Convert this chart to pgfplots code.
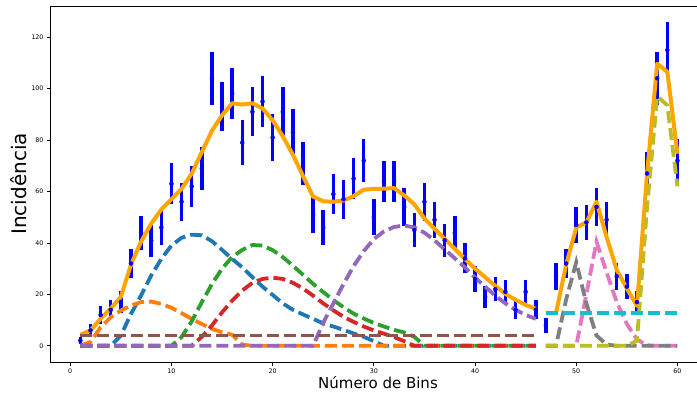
\documentclass[border=0pt]{standalone}
\usepackage{fontspec}
\setmainfont{DejaVu Sans}
\usepackage{pgfplots}
\pgfplotsset{compat=1.18}
\usepackage{pgfplotstable}

\definecolor{tabblue}{HTML}{1F77B4}
\definecolor{taborange}{HTML}{FF7F0E}
\definecolor{tabgreen}{HTML}{2CA02C}
\definecolor{tabred}{HTML}{D62728}
\definecolor{tabpurple}{HTML}{9467BD}
\definecolor{tabbrown}{HTML}{8C564B}
\definecolor{tabpink}{HTML}{E377C2}
\definecolor{tabgray}{HTML}{7F7F7F}
\definecolor{tabolive}{HTML}{BCBD22}
\definecolor{tabcyan}{HTML}{17BECF}
\definecolor{mplorange}{HTML}{FFA500}

\pgfplotstableread{
bin n err
1 2 1.41
2 6 2.45
3 12 3.46
4 14 3.74
5 17 4.12
6 32 5.66
7 44 6.63
8 41 6.40
9 46 6.78
10 63 7.94
11 56 7.48
12 62 7.87
13 69 8.31
14 104 10.20
15 93 9.64
16 98 9.90
17 79 8.89
18 91 9.54
19 95 9.75
20 81 9.00
21 91 9.54
22 83 9.11
23 71 8.43
24 51 7.14
25 46 6.78
26 59 7.68
27 57 7.55
28 65 8.06
29 72 8.49
30 50 7.07
31 64 8.00
32 64 8.00
33 54 7.35
34 45 6.71
35 56 7.48
36 49 7.00
37 41 6.40
38 44 6.63
39 34 5.83
40 26 5.10
41 19 4.36
42 22 4.69
43 21 4.58
44 14 3.74
45 21 4.58
46 14 3.74
47 8 2.83
48 27 5.20
49 32 5.66
50 47 6.86
51 48 6.93
52 54 7.35
53 49 7.00
54 27 5.20
55 23 4.80
56 17 4.12
57 67 8.19
58 104 10.20
59 115 10.72
60 72 8.49
}\datatab

\pgfplotstableread{
bin tot c0 c1 c2 c3 c4 c5
1 4.3 0 0 0 0 0 4
2 6 0 1.5 0 0 0 4
3 10.5 0 7.2 0 0 0 4
4 14.5 0 11.1 0 0 0 4
5 19 4 13.7 0 0 0 4
6 31.5 12.4 15.7 0 0 0 4
7 40.5 19.6 17 0 0 0 4
8 47.5 27.3 17.2 0 0 0 4
9 53 33.8 16.3 0 0 0 4
10 57 39 14.8 0 0 0 4
11 61 42 12.7 3.4 0 0 4
12 66.9 43.2 10.5 9.5 0 0 4
13 75.3 43 8.5 17 3.5 0 4
14 83.6 40.7 6.6 24 7.9 0 4
15 89.6 37.3 5.3 30 13 0 4
16 94.3 33.8 4.3 34.5 17.6 0 4
17 93.8 30.5 0.5 37.3 21.5 0 4
18 94.3 26.7 0 39.2 24.5 0 4
19 92.3 23 0 39 26 0 4
20 87.7 19.8 0 37.2 26.5 0 4
21 81.5 16.5 0 34.5 26 0 4
22 74.3 14 0 31.2 24.5 0 4
23 66 12.2 0 27.6 22.3 0 4
24 58 10.5 0 24.1 19.5 0 4
25 56.2 8.7 0 20.9 16.5 9 4
26 56 7.5 0 17.8 13.8 16.5 4
27 56.5 6.2 0 15 11.3 24 4
28 58.2 4.8 0 12.5 9.3 31 4
29 60.7 3.5 0 10.6 7.5 36.8 4
30 61 1.8 0 8.9 6 41.5 4
31 61.1 0 0 7.5 4.7 44.5 4
32 61.3 0 0 6.2 3.4 46.2 4
33 58.5 0 0 5.2 1.8 46.8 4
34 55 0 0 3.5 0 46 4
35 49.5 0 0 0 0 44 4
36 45.5 0 0 0 0 41 4
37 41.6 0 0 0 0 37.5 4
38 37.7 0 0 0 0 34 4
39 33.8 0 0 0 0 30.5 4
40 30 0 0 0 0 26.5 4
41 26.7 0 0 0 0 23 4
42 23.3 0 0 0 0 19.5 4
43 20.2 0 0 0 0 16.5 4
44 17.9 0 0 0 0 14 4
45 15.9 0 0 0 0 12 4
46 14.4 0 0 0 0 10.5 4
}\segA

\pgfplotstableread{
bin tot c6 c7 c8 c9
47 12.8 0 0 0 12.8
48 12.8 0 0 0 12.8
49 31.5 0 18 0 12.8
50 46 0 32.5 0 12.8
51 48 20 16.5 0 12.8
52 56 40.5 4 0 12.8
53 42.3 28.6 0.5 0 12.8
54 29.5 17 0 0 12.8
55 22.3 8.5 0 0 12.8
56 15.5 2.5 0 2 12.8
57 67 0.2 0 54 12.8
58 109.7 0 0 97 12.8
59 106.5 0 0 93.5 12.8
60 74.7 0 0 62 12.8
}\segB

\begin{document}
\begin{tikzpicture}
\useasboundingbox (-50.5pt,-32pt) rectangle (646.5pt,362pt);
\begin{axis}[
  at={(0,0)}, anchor=south west,
  scale only axis, width=656.8pt, height=355.7pt,
  xmin=-1.95, xmax=62.95, ymin=-6.29, ymax=132.0,
  xtick={0,10,...,60}, ytick={0,20,...,120},
  tick align=outside, tick pos=left,
  major tick length=3.5pt,
  tick style={black, line width=0.8pt},
  axis line style={line width=0.8pt, black},
  tick label style={font=\fontsize{6.3}{7.5}\selectfont},
  /pgf/number format/assume math mode=true,
  comp/.style={line width=3.8pt, dash pattern=on 12pt off 5pt, mark=none, line cap=butt},
]
% data with sqrt(N) error bars
\addplot[only marks, mark=*, mark size=2pt, blue, mark options={draw=blue, fill=blue},
  error bars/.cd, y dir=both, y explicit, error mark=none,
  error bar style={line width=3.5pt, blue}]
  table[x=bin, y=n, y error=err] {\datatab};
% first fit
\addplot[mplorange, line width=4pt, line join=round, mark=none] table[x=bin, y=tot] {\segA};
\addplot[comp, tabblue] table[x=bin, y=c0] {\segA};
\addplot[comp, taborange] table[x=bin, y=c1] {\segA};
\addplot[comp, tabgreen] table[x=bin, y=c2] {\segA};
\addplot[comp, tabred] table[x=bin, y=c3] {\segA};
\addplot[comp, tabpurple] table[x=bin, y=c4] {\segA};
\addplot[comp, tabbrown] table[x=bin, y=c5] {\segA};
% second fit
\addplot[mplorange, line width=4pt, line join=round, mark=none] table[x=bin, y=tot] {\segB};
\addplot[comp, tabpink] table[x=bin, y=c6] {\segB};
\addplot[comp, tabgray] table[x=bin, y=c7] {\segB};
\addplot[comp, tabolive] table[x=bin, y=c8] {\segB};
\addplot[comp, tabcyan] table[x=bin, y=c9] {\segB};
\end{axis}
\node[rotate=90, anchor=base, font=\fontsize{20}{24}\selectfont] at (-23.5pt,178pt) {Incidência};
\node[anchor=base, font=\fontsize{15}{18}\selectfont] at (327.5pt,-26pt) {Número de Bins};
\end{tikzpicture}
\end{document}
